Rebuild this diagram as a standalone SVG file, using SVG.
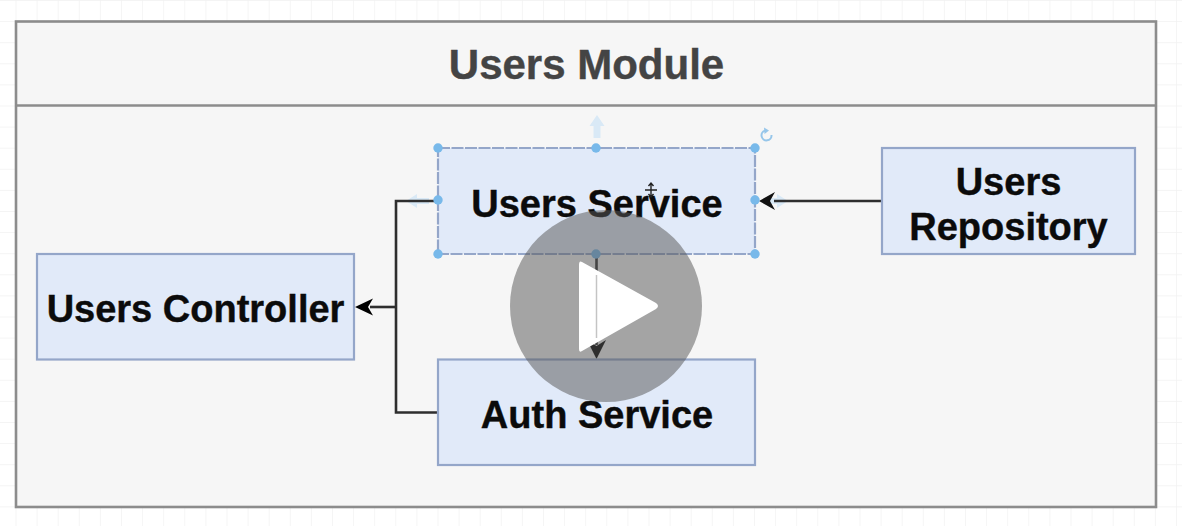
<svg xmlns="http://www.w3.org/2000/svg" width="1182" height="526" viewBox="0 0 1182 526">
  <style>
    .box { fill: #e1eaf9; stroke: #94a6c9; stroke-width: 2.200; }
    .label { font-family: "Liberation Sans", Arial, sans-serif; font-weight: 700; font-size: 38px; fill: #0b0b0b; stroke: #0b0b0b; stroke-width: 0.4; text-anchor: middle; }
    .wire { fill: none; stroke: #2e2e2e; stroke-width: 2.600; }
    .handle { fill: #78b9ea; }
    .ghost { fill: #d9e9f6; }
  </style>
  <defs>
    <pattern id="grid" x="15.500" y="0" width="21.100" height="21.100" patternUnits="userSpaceOnUse">
      <path d="M0 0V21.100M0 0H21.100" fill="none" stroke="#f1f1f1" stroke-width="1.400"/>
    </pattern>
  </defs>
  <rect width="1182" height="526" fill="#fff"/>
  <rect width="1182" height="526" fill="url(#grid)"/>

  <g id="users-module">
    <rect x="16" y="21.500" width="1140" height="485.500" fill="#f6f6f6" stroke="#8c8c8c" stroke-width="2.600"/>
    <line x1="16" y1="105.500" x2="1156" y2="105.500" stroke="#8c8c8c" stroke-width="2.600"/>
    <text x="586.500" y="79" font-family="'Liberation Sans', Arial, sans-serif" font-weight="700" font-size="42" fill="#444" stroke="#444" stroke-width="0.4" text-anchor="middle">Users Module</text>
  </g>

  <g id="ghost-arrows">
    <path class="ghost" d="M597 115L604.500 126H600.500V138H593.500V126H589.500Z"/>
    <path class="ghost" d="M406 201L417 194V198H429V204H417V208Z"/>
    <path class="ghost" d="M788 201L777 194V198H765V204H777V208Z"/>
  </g>

  <g id="connectors">
    <path class="wire" d="M438 201H396V412.500H438"/>
    <path class="wire" d="M396 307H370"/>
    <path d="M355 307L373 298.500L368 307L373 315.500Z" fill="#000"/>
    <path class="wire" d="M882 201H774"/>
    <path d="M759 201L775 192L770 201L775 210Z" fill="#111"/>
    <path class="wire" d="M596.500 254V345"/>
    <path d="M596.500 359L587 340L596.500 346L606 340Z" fill="#000"/>
  </g>

  <g id="users-service">
    <rect class="box" x="438" y="148" width="317" height="106" stroke-dasharray="12 1.500"/>
    <text class="label" x="597" y="217">Users Service</text>
  </g>
  <g id="users-repository">
    <rect class="box" x="882" y="148" width="253" height="106"/>
    <text class="label" x="1008.500" y="195">Users</text>
    <text class="label" x="1008.500" y="240">Repository</text>
  </g>
  <g id="users-controller">
    <rect class="box" x="37" y="254" width="317" height="105.500"/>
    <text class="label" x="195.500" y="322">Users Controller</text>
  </g>
  <g id="auth-service">
    <rect class="box" x="438" y="359.500" width="317" height="105.500"/>
    <text class="label" x="597" y="428">Auth Service</text>
  </g>

  <g id="selection-handles">
    <circle class="handle" cx="438" cy="148" r="4.700"/>
    <circle class="handle" cx="596" cy="148" r="4.700"/>
    <circle class="handle" cx="755" cy="148" r="4.700"/>
    <circle class="handle" cx="438" cy="200" r="4.700"/>
    <circle class="handle" cx="755" cy="200" r="4.700"/>
    <circle class="handle" cx="438" cy="254" r="4.700"/>
    <circle class="handle" cx="596" cy="254" r="4.700"/>
    <circle class="handle" cx="755" cy="254" r="4.700"/>
    <path d="M765.500 130.500A5 5 0 1 0 771.500 135" fill="none" stroke="#96c6ea" stroke-width="2"/>
    <path d="M764 127.500L769 130.500L764.500 134Z" fill="#96c6ea"/>
    <path d="M651 183V197M645 190H657M648.500 186L651 183L653.500 186M648.500 194L651 197L653.500 194" fill="none" stroke="#222" stroke-width="1.400"/>
  </g>

  <g id="play-overlay">
    <circle cx="606" cy="306" r="96" fill="#595959" fill-opacity="0.52"/>
    <path d="M582 262L656 303Q660 306 656 309L582 351Q579 353 579 349V265Q579 260 582 262Z" fill="#fff"/>
    <line x1="596.500" y1="275" x2="596.500" y2="338" stroke="#c4c4c4" stroke-width="1.500"/>
  </g>
</svg>
